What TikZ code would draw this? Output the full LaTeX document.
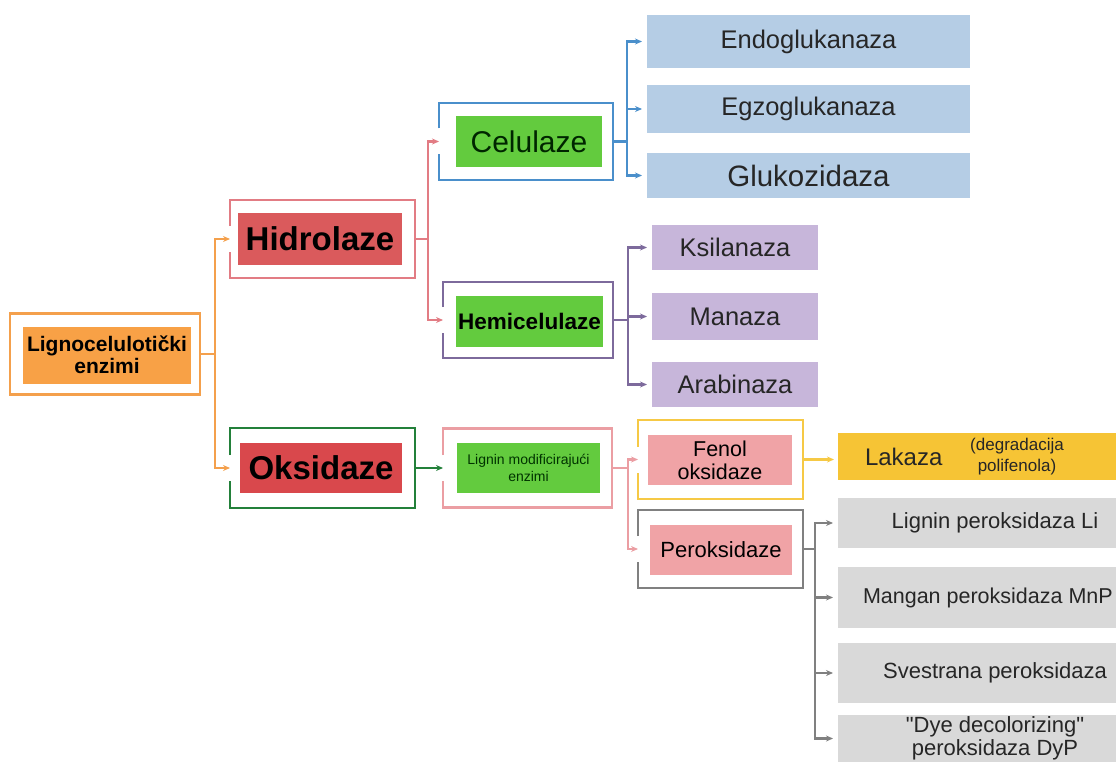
\documentclass[tikz,border=0pt]{standalone}
\usepackage{fontspec}
\setmainfont{Liberation Sans}
\usetikzlibrary{arrows.meta}
\definecolor{orangeln}{HTML}{F4A04C}
\definecolor{orangefl}{HTML}{F8A146}
\definecolor{redln}{HTML}{E27C84}
\definecolor{redfl}{HTML}{DA5A5C}
\definecolor{greenln}{HTML}{23803A}
\definecolor{oksfl}{HTML}{D9484C}
\definecolor{greenfl}{HTML}{63CB3E}
\definecolor{blueln}{HTML}{4A8FCB}
\definecolor{bluefl}{HTML}{B5CDE5}
\definecolor{purpleln}{HTML}{7D6A9C}
\definecolor{purplefl}{HTML}{C7B6DA}
\definecolor{pinkln}{HTML}{EB9EA3}
\definecolor{pinkfl}{HTML}{F0A3A6}
\definecolor{yellowln}{HTML}{F6C945}
\definecolor{yellowfl}{HTML}{F6C435}
\definecolor{grayln}{HTML}{808080}
\definecolor{grayfl}{HTML}{D9D9D9}
\tikzset{
  framenode/.style={inner sep=0pt, outer sep=0pt},
  fillnode/.style={inner sep=0pt, outer sep=0pt, align=center, text=black},
  leaf/.style={fillnode, text=black!85},
  frameline/.style={line width=2.6pt},
  link/.style={line width=2.2pt, -{Stealth[length=7pt,width=6pt]}},
}
\newcommand{\gapframe}[2]{%
  \draw[frameline,#2] ([yshift=13pt]#1.west) -- (#1.north west) -- (#1.north east)
    -- (#1.south east) -- (#1.south west) -- ([yshift=-13pt]#1.west);}

\begin{document}
\begin{tikzpicture}[x=1pt,y=-1pt]
  \useasboundingbox (0,0) rectangle (1116,762);
  \clip (0,0) rectangle (1116,762);

  \node[framenode, draw=orangeln, frameline, minimum width=190pt, minimum height=81pt] (ligF) at (105,354) {};
  \node[fillnode, fill=orangefl, minimum width=168pt, minimum height=57pt, font=\fontsize{21}{22}\selectfont\bfseries] (lig) at (107,355) {Lignocelulotički\\enzimi};

  \node[framenode, minimum width=185pt, minimum height=78pt] (hidF) at (322.5,239) {};
  \node[fillnode, fill=redfl, minimum width=164pt, minimum height=52pt, font=\fontsize{33}{36}\selectfont\bfseries] (hid) at (320,239) {Hidrolaze};
  \gapframe{hidF}{redln}

  \node[framenode, minimum width=185pt, minimum height=80pt] (oksF) at (322.5,468) {};
  \node[fillnode, fill=oksfl, minimum width=162pt, minimum height=50pt, font=\fontsize{33}{36}\selectfont\bfseries] (oks) at (321,468) {Oksidaze};
  \gapframe{oksF}{greenln}

  \node[framenode, minimum width=174pt, minimum height=77pt] (celF) at (526,141.5) {};
  \node[fillnode, fill=greenfl, minimum width=146pt, minimum height=51pt, font=\fontsize{30}{33}\selectfont, text=black!85!green] (cel) at (529,141.5) {Celulaze};
  \gapframe{celF}{blueln}

  \node[framenode, minimum width=170pt, minimum height=76pt] (hemF) at (528,320) {};
  \node[fillnode, fill=greenfl, minimum width=147pt, minimum height=51pt, font=\fontsize{22.5}{25}\selectfont\bfseries] (hem) at (529.5,321.5) {Hemicelulaze};
  \gapframe{hemF}{purpleln}

  \node[framenode, minimum width=169pt, minimum height=79pt] (lmodF) at (527.5,468) {};
  \node[fillnode, fill=greenfl, minimum width=143pt, minimum height=50pt, font=\fontsize{14}{17}\selectfont, text=black!80!green] (lmod) at (528.5,468) {Lignin modificirajući\\enzimi};
  \gapframe{lmodF}{pinkln}

  \node[framenode, minimum width=165pt, minimum height=79pt] (fenF) at (720.5,459.5) {};
  \node[fillnode, fill=pinkfl, minimum width=144pt, minimum height=50pt, font=\fontsize{21.5}{23}\selectfont] (fen) at (720,460) {Fenol\\oksidaze};
  \gapframe{fenF}{yellowln}

  \node[framenode, minimum width=165pt, minimum height=78pt] (perF) at (720.5,549) {};
  \node[fillnode, fill=pinkfl, minimum width=142pt, minimum height=50pt, font=\fontsize{22}{24}\selectfont] (per) at (721,550) {Peroksidaze};
  \gapframe{perF}{grayln}

  \node[leaf, fill=bluefl, minimum width=323pt, minimum height=53pt, font=\fontsize{25.5}{28}\selectfont] (endo) at (808.5,41.5) {Endoglukanaza};
  \node[leaf, fill=bluefl, minimum width=323pt, minimum height=48pt, font=\fontsize{25.5}{28}\selectfont] (egzo) at (808.5,109) {Egzoglukanaza};
  \node[leaf, fill=bluefl, minimum width=323pt, minimum height=45pt, font=\fontsize{29.5}{32}\selectfont] (gluko) at (808.5,175.5) {Glukozidaza};

  \node[leaf, fill=purplefl, minimum width=166pt, minimum height=45pt, font=\fontsize{25.5}{28}\selectfont] (ksil) at (735,247.5) {Ksilanaza};
  \node[leaf, fill=purplefl, minimum width=166pt, minimum height=47pt, font=\fontsize{25.5}{28}\selectfont] (mana) at (735,316.5) {Manaza};
  \node[leaf, fill=purplefl, minimum width=166pt, minimum height=45pt, font=\fontsize{25.5}{28}\selectfont] (arab) at (735,384.5) {Arabinaza};

  \node[leaf, fill=yellowfl, minimum width=314pt, minimum height=47pt] (lak) at (995,456.5) {};
  \node[leaf, anchor=west, font=\fontsize{24}{26}\selectfont] (lakname) at (865,457) {Lakaza};
  \node[leaf, font=\fontsize{17}{21}\selectfont] (laknote) at (1017,457) {(degradacija\\polifenola)};

  \node[leaf, fill=grayfl, minimum width=314pt, minimum height=50pt, font=\fontsize{22}{23}\selectfont] (lip) at (995,523) {Lignin peroksidaza Li};
  \node[leaf, fill=grayfl, minimum width=314pt, minimum height=61pt] (mnp) at (995,597.5) {};
  \node[leaf, anchor=west, font=\fontsize{21.5}{23}\selectfont] (mnpname) at (863,597.5) {Mangan peroksidaza MnP};
  \node[leaf, fill=grayfl, minimum width=314pt, minimum height=60pt, font=\fontsize{22}{23}\selectfont] (vp) at (995,673) {Svestrana peroksidaza};
  \node[leaf, fill=grayfl, minimum width=314pt, minimum height=47pt, font=\fontsize{22}{23}\selectfont] (dyp) at (995,738.5) {\textquotedbl Dye decolorizing\textquotedbl\\peroksidaza DyP};

  \coordinate (j1) at ([xshift=15pt]ligF.east);
  \draw[link, orangeln] (ligF.east) -- (j1) |- (hidF.west);
  \draw[link, orangeln] (j1) |- (oksF.west);

  \coordinate (j2) at ([xshift=13pt]hidF.east);
  \draw[link, redln] (hidF.east) -- (j2) |- (celF.west);
  \draw[link, redln] (j2) |- (hemF.west);

  \draw[link, greenln] (oksF.east) -- (lmodF.west);

  \coordinate (j3) at ([xshift=14pt]celF.east);
  \draw[link, blueln, shorten >=5pt] (celF.east) -- (j3) |- (endo.west);
  \draw[link, blueln, shorten >=5pt] (j3) |- (egzo.west);
  \draw[link, blueln, shorten >=5pt] (j3) |- (gluko.west);

  \coordinate (j4) at ([xshift=15pt]hemF.east);
  \draw[link, purpleln, shorten >=5pt] (hemF.east) -- (j4) |- (ksil.west);
  \draw[link, purpleln, shorten >=5pt] (j4) |- (mana.west);
  \draw[link, purpleln, shorten >=5pt] (j4) |- (arab.west);

  \coordinate (j5) at ([xshift=16pt]lmodF.east);
  \draw[link, pinkln] (lmodF.east) -- (j5) |- (fenF.west);
  \draw[link, pinkln] (j5) |- (perF.west);

  \draw[link, yellowln, shorten >=4pt] (fenF.east) -- (fenF.east -| lak.west);

  \coordinate (j6) at ([xshift=12pt]perF.east);
  \draw[link, grayln, shorten >=5pt] (perF.east) -- (j6) |- (lip.west);
  \draw[link, grayln, shorten >=5pt] (j6) |- (mnp.west);
  \draw[link, grayln, shorten >=5pt] (j6) |- (vp.west);
  \draw[link, grayln, shorten >=5pt] (j6) |- (dyp.west);
\end{tikzpicture}
\end{document}
